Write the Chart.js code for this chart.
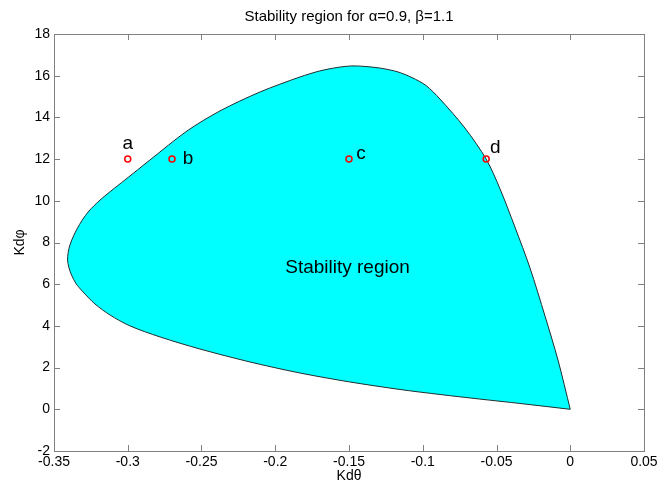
<!DOCTYPE html>
<html>
<head>
<meta charset="utf-8">
<script src="https://cdn.jsdelivr.net/npm/chart.js@4.4.1/dist/chart.umd.min.js"></script>
<style>
  html, body { margin: 0; padding: 0; background: #fff; }
</style>
</head>
<body>
<canvas id="stabilityChart" width="672" height="487"></canvas>
<script>
// boundary of the stability region, starting at the origin, lower edge first
const boundaryX = [0, -0.0341, -0.0612, -0.0883, -0.1154, -0.1493, -0.1832, -0.2171, -0.251, -0.2781, -0.2985,
  -0.312, -0.3222, -0.3303, -0.3351, -0.3381, -0.34, -0.3408,
  -0.3404, -0.3392, -0.3371, -0.3344, -0.331, -0.3263, -0.3195, -0.3114, -0.3019, -0.2849, -0.2598, -0.2375,
  -0.2103, -0.1832, -0.1697, -0.1575, -0.148, -0.1385, -0.1276, -0.1168, -0.1073, -0.0978, -0.0883, -0.0714, -0.057,
  -0.0476, -0.0375, -0.0273, -0.0171, -0.0083, 0];
const boundaryY = [0, 0.28, 0.49, 0.71, 0.95, 1.31, 1.74, 2.27, 2.89, 3.47, 4.0,
  4.52, 5.05, 5.63, 6.03, 6.44, 6.82, 7.16,
  7.52, 7.88, 8.26, 8.65, 9.06, 9.51, 9.99, 10.47, 11.0, 11.96, 13.35, 14.31,
  15.22, 15.94, 16.23, 16.4, 16.47, 16.44, 16.35, 16.18, 15.91, 15.53, 14.88, 13.49, 12.0,
  10.57, 8.74, 6.78, 4.47, 2.36, 0];

// test points
const pointNames = ["a", "b", "c", "d"];
const pointX = [-0.3, -0.27, -0.15, -0.057];
const pointY = [12, 12, 12, 12];

const regionLabel = "Stability region";
const regionLabelX = -0.151;
const regionLabelY = 6.8;

const xTicks = [-0.35, -0.3, -0.25, -0.2, -0.15, -0.1, -0.05, 0, 0.05];
const yTicks = [-2, 0, 2, 4, 6, 8, 10, 12, 14, 16, 18];

const titleText = "Stability region for \u03b1=0.9, \u03b2=1.1";

Chart.defaults.font.family = "'Liberation Sans', Arial, sans-serif";
Chart.defaults.color = "#000";

const fmt = (v) => String(parseFloat(v.toFixed(2)));

// matlab style box, inward ticks and text
const matlabAxes = {
  id: "matlabAxes",
  afterDraw(chart) {
    const ctx = chart.ctx;
    const a = chart.chartArea;
    const sx = chart.scales.x;
    const sy = chart.scales.y;
    ctx.save();
    ctx.strokeStyle = "#808080";
    ctx.lineWidth = 1;
    ctx.beginPath();
    xTicks.forEach((v) => {
      const px = Math.round(sx.getPixelForValue(v)) + 0.5;
      ctx.moveTo(px, a.bottom);
      ctx.lineTo(px, a.bottom - 6);
      ctx.moveTo(px, a.top);
      ctx.lineTo(px, a.top + 6);
    });
    yTicks.forEach((v) => {
      const py = Math.round(sy.getPixelForValue(v)) + 0.5;
      ctx.moveTo(a.left, py);
      ctx.lineTo(a.left + 6, py);
      ctx.moveTo(a.right, py);
      ctx.lineTo(a.right - 6, py);
    });
    ctx.stroke();
    ctx.strokeRect(Math.round(a.left) + 0.5, Math.round(a.top) + 0.5,
      Math.round(a.right - a.left), Math.round(a.bottom - a.top));

    ctx.fillStyle = "#000";
    ctx.textAlign = "center";
    ctx.textBaseline = "middle";
    ctx.font = "15px 'Liberation Sans', Arial, sans-serif";
    ctx.fillText(titleText, (a.left + a.right) / 2, 17);

    ctx.font = "19px 'Liberation Sans', Arial, sans-serif";
    ctx.fillText(regionLabel, sx.getPixelForValue(regionLabelX), sy.getPixelForValue(regionLabelY));

    const offsets = [[0, -15], [16, 0], [12, -5], [9, -11]];
    pointNames.forEach((name, i) => {
      const px = sx.getPixelForValue(pointX[i]) + offsets[i][0];
      const py = sy.getPixelForValue(pointY[i]) + offsets[i][1];
      ctx.fillText(name, px, py);
    });
    ctx.restore();
  },
};

const ctx = document.getElementById("stabilityChart").getContext("2d");

const stabilityChart = new Chart(ctx, {
  type: "scatter",
  data: {
    datasets: [
      {
        label: "points",
        data: pointX.map((x, i) => ({ x: x, y: pointY[i] })),
        pointRadius: 3,
        pointBorderWidth: 1.5,
        pointBorderColor: "#ff0000",
        pointBackgroundColor: "rgba(0,0,0,0)",
        order: 0,
      },
      {
        label: "region",
        data: boundaryX.map((x, i) => ({ x: x, y: boundaryY[i] })),
        showLine: true,
        fill: "shape",
        backgroundColor: "#00ffff",
        borderColor: "#1e2e2e",
        borderWidth: 1,
        tension: 0.3,
        pointRadius: 0,
        order: 1,
      },
    ],
  },
  options: {
    responsive: false,
    animation: false,
    layout: { padding: { top: 34, right: 28, left: 0, bottom: 0 } },
    plugins: {
      legend: { display: false },
      tooltip: { enabled: false },
    },
    scales: {
      x: {
        type: "linear",
        min: -0.35,
        max: 0.05,
        grid: { display: false, drawTicks: false },
        border: { display: false },
        afterBuildTicks: (scale) => { scale.ticks = xTicks.map((v) => ({ value: v })); },
        afterFit: (scale) => { scale.height = 36; },
        ticks: {
          autoSkip: false,
          maxRotation: 0,
          padding: 3,
          font: { size: 14 },
          callback: (v) => fmt(v),
        },
        title: {
          display: true,
          text: "Kd\u03b8",
          font: { size: 14 },
          padding: { top: 0, bottom: 2 },
        },
      },
      y: {
        type: "linear",
        min: -2,
        max: 18,
        grid: { display: false, drawTicks: false },
        border: { display: false },
        afterBuildTicks: (scale) => { scale.ticks = yTicks.map((v) => ({ value: v })); },
        afterFit: (scale) => { scale.width = 54; },
        ticks: {
          autoSkip: false,
          padding: 4,
          font: { size: 14 },
          callback: (v) => fmt(v),
        },
        title: {
          display: true,
          text: "Kd\u03c6",
          font: { size: 14 },
          padding: { top: 12, bottom: 0 },
        },
      },
    },
  },
  plugins: [matlabAxes],
});
</script>
</body>
</html>
